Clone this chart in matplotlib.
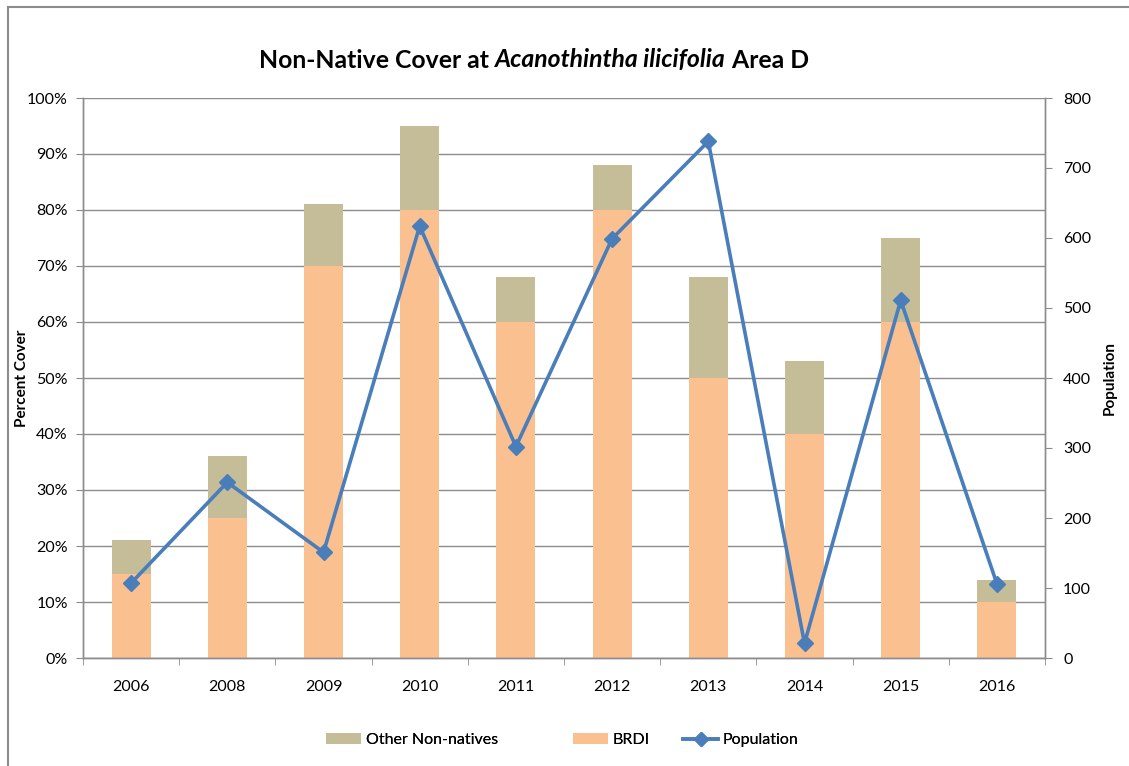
import matplotlib
matplotlib.use("Agg")
import matplotlib.pyplot as plt
from matplotlib.lines import Line2D
from matplotlib.patches import Patch
import numpy as np

plt.rcParams['font.family'] = ['Lato', 'DejaVu Sans']

years = ["2006", "2008", "2009", "2010", "2011", "2012", "2013", "2014", "2015", "2016"]
brdi = [15, 25, 70, 80, 60, 80, 50, 40, 60, 10]
other = [6, 11, 11, 15, 8, 8, 18, 13, 15, 4]
population = [107, 251, 151, 617, 302, 599, 738, 21, 511, 106]

c_other = "#C4BD97"
c_brdi = "#FAC090"
c_pop = "#4A7EBB"
c_axis = "#8C8C8C"

W, H = 1129, 766
fig = plt.figure(figsize=(W / 100, H / 100), dpi=100)
ax = fig.add_axes([83 / W, 1 - 658 / H, (1045 - 83) / W, (658 - 98) / H])
ax2 = ax.twinx()

x = np.arange(len(years))
w = 0.405
ax.bar(x, brdi, w, color=c_brdi, zorder=2)
ax.bar(x, other, w, bottom=brdi, color=c_other, zorder=2)

ax.set_xlim(-0.5, len(years) - 0.5)
ax.set_ylim(0, 100)
ax.set_yticks(np.arange(0, 101, 10))
ax.set_yticklabels([f"{v}%" for v in range(0, 101, 10)])
ax.yaxis.grid(True, color=c_axis, linewidth=1.0, zorder=0)
ax.set_axisbelow(True)
ax.set_xticks(x)
ax.set_xticklabels(years)
ax.set_xticks(np.arange(-0.5, len(years), 1), minor=True)
ax.tick_params(axis='x', which='major', length=0, pad=16, labelsize=11.5)
ax.tick_params(axis='x', which='minor', length=5, color=c_axis, direction='out')
ax.tick_params(axis='y', length=5, color=c_axis, labelsize=11.5, pad=6)

ax2.plot(x, population, color=c_pop, linewidth=2.6, marker='D', markersize=8.5,
         markerfacecolor=c_pop, markeredgecolor=c_pop, zorder=5)
ax2.set_ylim(0, 800)
ax2.set_yticks(np.arange(0, 801, 100))
ax2.tick_params(axis='y', length=5, color=c_axis, labelsize=11.5, pad=8)

for a in (ax, ax2):
    for s in a.spines.values():
        s.set_color(c_axis)
        s.set_linewidth(1.0)
    a.spines['top'].set_visible(False)

ax.set_ylabel("Percent Cover", fontsize=11, fontweight='bold')
ax.yaxis.set_label_coords((29 - 83) / (1045 - 83), 0.5)
ax2.set_ylabel("Population", fontsize=11, fontweight='bold', rotation=90)
ax2.yaxis.set_label_coords((1103 - 83) / (1045 - 83), 0.5)

# title built from plain / italic runs, laid out left to right and centred
title_parts = [("Non-Native Cover at ", 'normal'),
               ("Acanothintha ilicifolia", 'italic'),
               (" Area D", 'normal')]
fig.canvas.draw()
renderer = fig.canvas.get_renderer()
texts = []
for s, style in title_parts:
    t = fig.text(0, 1 - 60 / H, s, ha='left', va='center', fontsize=17.8,
                 fontweight='bold', fontstyle=style)
    texts.append(t)
widths = [t.get_window_extent(renderer).width for t in texts]
x0 = 534 - sum(widths) / 2
for t, wd in zip(texts, widths):
    t.set_x(x0 / W)
    x0 += wd

# legend entries placed individually
legend_items = [
    (Patch(facecolor=c_other, label="Other Non-natives"), 326),
    (Patch(facecolor=c_brdi, label="BRDI"), 573),
    (Line2D([0], [0], color=c_pop, linewidth=2.6, marker='D', markersize=7, label="Population"), 683),
]
for h, xpos in legend_items:
    leg = fig.legend(handles=[h], loc='center left', bbox_to_anchor=(xpos / W, 1 - 740 / H),
                     frameon=False, fontsize=11.5, handlelength=2.2, handletextpad=0.3,
                     borderpad=0, borderaxespad=0)
    fig.add_artist(leg)

# outer chart frame
fig.add_artist(Line2D([8 / W, 8 / W], [0, 1 - 7 / H], color=c_axis, linewidth=1.5,
                      transform=fig.transFigure))
fig.add_artist(Line2D([8 / W, 1], [1 - 7 / H, 1 - 7 / H], color=c_axis, linewidth=1.5,
                      transform=fig.transFigure))

fig.savefig("out.png", dpi=100)
